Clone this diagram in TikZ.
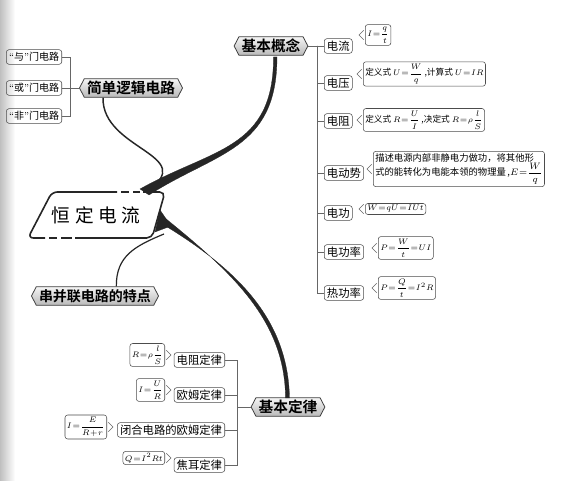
\documentclass[tikz,border=0pt]{standalone}
\usepackage{amsmath}
\usepackage{fontspec}
\newfontfamily\cjk{Noto Sans CJK SC}
\newfontfamily\cjkb{Noto Sans CJK SC Bold}
\usetikzlibrary{shapes.symbols}
\AtBeginDocument{\thickmuskip=1mu\relax\medmuskip=1mu\relax}

\newcommand\oq{{\rmfamily``}}
\newcommand\cq{{\rmfamily''}}
\newcommand\lptr[1]{\draw[link] ([xshift=-1pt,yshift=3.5pt]#1.west) -- ++(-3.5pt,-3.5pt) -- ++(3.5pt,-3.5pt);}
\newcommand\rptr[1]{\draw[link] ([xshift=1pt,yshift=3.5pt]#1.east) -- ++(3.5pt,-3.5pt) -- ++(-3.5pt,-3.5pt);}

\begin{document}
\begin{tikzpicture}[x=0.75pt, y=-0.75pt,
  hexa/.style={signal, signal to=west and east, signal pointer angle=125, draw=black!75, line width=0.6pt,
    top color=gray!8, bottom color=gray!55, font=\cjkb\fontsize{11}{12}\selectfont,
    inner xsep=2pt, inner ysep=1.5pt, minimum height=14pt},
  item/.style={draw=black!70, rounded corners=2pt, font=\cjk\fontsize{8.5}{10}\selectfont,
    inner xsep=2pt, inner ysep=1.5pt, minimum height=11pt},
  formula/.style={draw=black!70, rounded corners=2pt, font=\cjk\fontsize{6.5}{7.5}\selectfont,
    inner sep=1.5pt, align=left},
  link/.style={draw=black!60, line width=0.5pt},
  frame/.style={draw=black!85, line width=1.2pt, rounded corners=4pt},
  branch/.style={fill=black!85, draw=black!85, line width=0.2pt}
]
\useasboundingbox[fill=white] (0,0) rectangle (576,481);
\shade[left color=gray!50, right color=white] (0,0) rectangle (15,481);

% centre
\node[font=\cjk\fontsize{14}{16}\selectfont] (hdl) at (96,215) {恒\hspace{3.5pt}定\hspace{3.5pt}电\hspace{3.5pt}流};
\draw[frame] (117,192) -- (52,192) -- (28,238) -- (45,238);
\draw[frame] (75,238) -- (152,238) -- (165,192) -- (143,192);
\draw[frame] (121,192) -- (129,192) (133,192) -- (140,192) (49,238) -- (57,238) (61,238) -- (72,238);

% main branches
\node[hexa] (gnl) at (271,46) {基本概念};
\node[hexa] (ljdl) at (131,88) {简单逻辑电路};
\node[hexa, font=\cjkb\fontsize{10.5}{12}\selectfont] (cbl) at (95,296) {串并联电路的特点};
\node[hexa] (jbdl) at (288,407) {基本定律};

\fill[branch] (273.5,57) .. controls (273.5,150) and (213,148) .. (140,189)
  -- (149,195) .. controls (216,152) and (277,150) .. (277,57) -- cycle;
\draw[line width=1.1pt, black!85] ([xshift=-21pt]ljdl.south) .. controls (102,150) and (200,155) .. (147,191);
\fill[branch] (160,214) .. controls (232,272) and (285,320) .. (285.5,398)
  -- (289.5,398) .. controls (288,318) and (236,268) .. (159,222) -- cycle;
\fill[branch] (160,210) -- (171,226) -- (155,232) -- cycle;
\draw[line width=0.9pt, black!85] (164,234) .. controls (135,246) and (116,256) .. ([xshift=16pt]cbl.north);

% 基本概念
\node[item, anchor=west] (dl) at (324,46) {电流};
\node[item, anchor=west] (dy) at (324,83) {电压};
\node[item, anchor=west] (dz) at (324,121) {电阻};
\node[item, anchor=west] (ddsh) at (324,173) {电动势};
\node[item, anchor=west] (dg) at (324,213) {电功};
\node[item, anchor=west] (dgl) at (324,252) {电功率};
\node[item, anchor=west] (rgl) at (324,293) {热功率};
\coordinate (s1) at (317,46);
\draw[link] (gnl.east) -- (s1);
\foreach \n in {dl,dy,dz,ddsh,dg,dgl,rgl}
  \draw[link] (s1) |- (\n.west);

\node[formula, anchor=west] (fdl) at (365,35) {$I=\dfrac{q}{t}$};
\node[formula, anchor=west, minimum width=88pt] (fdy) at (363,74) {定义式 $U=\dfrac{W}{q}$\,,计算式 $U=IR$};
\node[formula, anchor=west, minimum width=90pt] (fdz) at (363,120) {定义式 $R=\dfrac{U}{I}$\,,决定式 $R=\rho\dfrac{l}{S}$};
\node[formula, anchor=west, font=\cjk\fontsize{7}{11}\selectfont] (fddsh) at (373,169)
  {描述电源内部非静电力做功，将其他形\\式的能转化为电能本领的物理量\,,$E=\dfrac{W}{q}$};
\node[formula, anchor=west] (fdg) at (365,209) {$W=qU=IUt$};
\node[formula, anchor=west] (fdgl) at (378,248) {$P=\dfrac{W}{t}=UI$};
\node[formula, anchor=west] (frgl) at (378,288) {$P=\dfrac{Q}{t}=I^2R$};
\foreach \n in {fdl,fdy,fdz,fddsh,fdg,fdgl,frgl}
  {\lptr{\n}}

% 简单逻辑电路
\node[item, anchor=east, font=\cjk\fontsize{7.5}{9}\selectfont] (yu) at (62,57) {\oq 与\cq 门电路};
\node[item, anchor=east, font=\cjk\fontsize{7.5}{9}\selectfont] (huo) at (62,88) {\oq 或\cq 门电路};
\node[item, anchor=east, font=\cjk\fontsize{7.5}{9}\selectfont] (fei) at (62,116) {\oq 非\cq 门电路};
\coordinate (s2) at (70,88);
\draw[link] (ljdl.west) -- (s2);
\foreach \n in {yu,huo,fei}
  \draw[link] (s2) |- (\n.east);

% 基本定律
\node[item, anchor=east] (dzdl) at (225,360) {电阻定律};
\node[item, anchor=east] (omdl) at (225,395) {欧姆定律};
\node[item, anchor=east] (bhdl) at (225,430) {闭合电路的欧姆定律};
\node[item, anchor=east] (jedl) at (225,465) {焦耳定律};
\coordinate (s3) at (237,407);
\draw[link] (jbdl.west) -- (s3);
\foreach \n in {dzdl,omdl,bhdl,jedl}
  \draw[link] (s3) |- (\n.east);

\node[formula, anchor=east] (fdzdl) at (165,355) {$R=\rho\dfrac{l}{S}$};
\node[formula, anchor=east] (fomdl) at (165,390) {$I=\dfrac{U}{R}$};
\node[formula, anchor=east] (fbhdl) at (107,427) {$I=\dfrac{E}{R+r}$};
\node[formula, anchor=east] (fjedl) at (165,458) {$Q=I^2Rt$};
\foreach \n in {fdzdl,fomdl,fbhdl,fjedl}
  {\rptr{\n}}
\end{tikzpicture}
\end{document}
